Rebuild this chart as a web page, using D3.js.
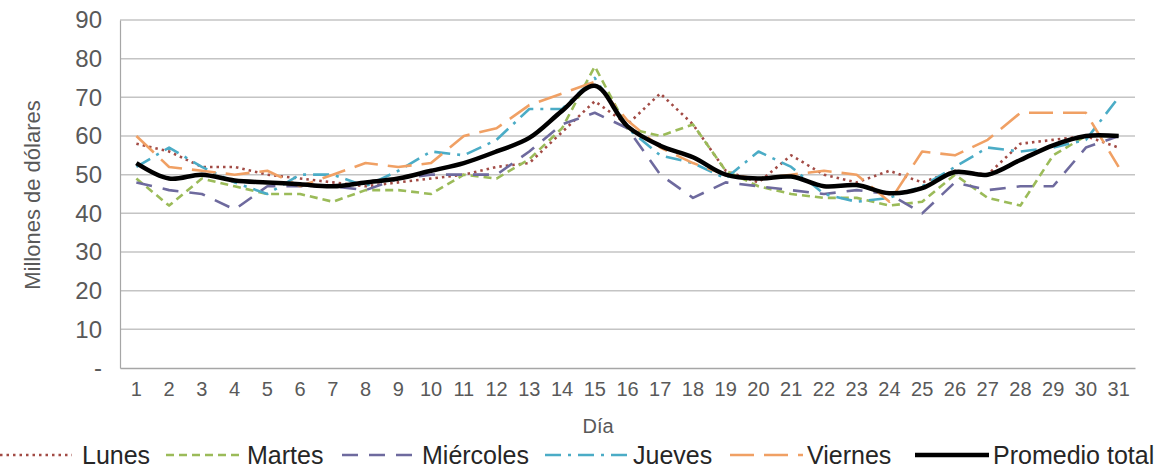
<!DOCTYPE html>
<html><head><meta charset="utf-8">
<script src="https://cdn.jsdelivr.net/npm/d3@7"></script>
<style>
html,body{margin:0;padding:0;background:#fff;}
svg{display:block;}
</style></head>
<body>
<svg id="chart" width="1164" height="472"></svg>
<script>
const days = d3.range(1, 32);
const yTicks = [0,10,20,30,40,50,60,70,80,90];
const yTickLabels = ["-","10","20","30","40","50","60","70","80","90"];
const lunes = [58,56,52,52,50,49,48,47,48,49,50,52,53,61,69,63,71,63,51,48,55,50,48,51,48,51,50,58,59,60,57];
const martes = [49,42,49,47,45,45,43,46,46,45,50,49,54,62,78,62,60,63,51,47,45,44,44,42,43,50,44,42,55,60,60];
const miercoles = [48,46,45,41,47,47,47,46,49,50,50,50,56,63,66,62,50,44,48,47,46,45,46,45,40,48,46,47,47,57,60];
const jueves = [52,57,52,48,45,50,50,47,51,56,55,59,67,67,75,62,55,53,49,56,52,45,43,44,47,52,57,56,57,59,70];
const viernes = [60,52,51,50,51,47,50,53,52,53,60,62,68,71,74,64,57,53,50,49,50,51,50,43,56,55,59,66,66,66,52];
const promedio = [53,49,50,48.5,48,47.5,47,48,49,51,53,56,59.5,66.5,73,62.5,57.5,54.5,50,49,49.5,47,47.3,45.2,46.5,50.7,50,53.8,57.6,60,60];
const seriesNames = ["Lunes","Martes","Miércoles","Jueves","Viernes","Promedio total"];
const seriesValues = [lunes, martes, miercoles, jueves, viernes, promedio];

const styles = [
  {color:"#A24B45", width:2.6, dash:"2.5 4", curve:d3.curveLinear},
  {color:"#9BBB59", width:2.6, dash:"8 5", curve:d3.curveLinear},
  {color:"#6E6A9E", width:2.6, dash:"16 11", curve:d3.curveLinear},
  {color:"#4BACC6", width:2.6, dash:"16 7 3 7", curve:d3.curveLinear},
  {color:"#F0A064", width:2.6, dash:"24 10", curve:d3.curveLinear},
  {color:"#000000", width:4.5, dash:null, curve:d3.curveCatmullRom}
];

const svg = d3.select("#chart");
const font = "'Liberation Sans',Arial,sans-serif";
const m = {left:120, right:1135, top:20, bottom:368};

const x = d3.scaleBand().domain(days).range([m.left, m.right]);
const y = d3.scaleLinear().domain([0,90]).range([m.bottom, m.top]);

// gridlines
svg.append("g").selectAll("line").data(yTicks.filter(d=>d>0)).join("line")
  .attr("x1", m.left).attr("x2", m.right)
  .attr("y1", d=>y(d)).attr("y2", d=>y(d))
  .attr("stroke", "#C4C4C4").attr("stroke-width", 1.5);

// y axis
const yAxis = d3.axisLeft(y).tickValues(yTicks).tickFormat((d,i)=>yTickLabels[i]).tickSize(0).tickPadding(18);
const gy = svg.append("g").attr("transform", `translate(${m.left},0)`).call(yAxis);
gy.select(".domain").attr("stroke", "#A6A6A6").attr("stroke-width", 1.2);
gy.selectAll("text").attr("font-family", font).attr("font-size", 24).attr("fill", "#595959");

// x axis
const xAxis = d3.axisBottom(x).tickSize(0).tickPadding(14);
const gx = svg.append("g").attr("transform", `translate(0,${m.bottom})`).call(xAxis);
gx.select(".domain").attr("stroke", "#A6A6A6").attr("stroke-width", 1.5);
gx.selectAll("text").attr("font-family", font).attr("font-size", 20).attr("fill", "#595959");

// axis titles
svg.append("text").attr("x", 598).attr("y", 433).attr("text-anchor","middle")
  .attr("font-family", font).attr("font-size", 20).attr("fill", "#595959").text("Día");
svg.append("text").attr("transform", "translate(40,195) rotate(-90)").attr("text-anchor","middle")
  .attr("font-family", font).attr("font-size", 22).attr("fill", "#595959").text("Millones de dólares");

// lines
seriesValues.forEach((vals, i) => {
  const st = styles[i];
  const line = d3.line().x((d,j)=>x(days[j]) + x.bandwidth()/2).y(d=>y(d)).curve(st.curve);
  svg.append("path").datum(vals)
    .attr("d", line).attr("fill","none")
    .attr("stroke", st.color).attr("stroke-width", st.width)
    .attr("stroke-dasharray", st.dash)
    .attr("stroke-linejoin","round");
});

// legend
const legendLineX = [0, 166, 342, 545, 730, 915];
const legendTextX = [82, 247, 422, 633, 807, 993];
const legY = 455;
const lg = svg.append("g");
seriesNames.forEach((name, i) => {
  const st = styles[i];
  lg.append("line").attr("x1", legendLineX[i]).attr("x2", legendTextX[i] - (i === 0 ? 10 : 4))
    .attr("y1", legY).attr("y2", legY)
    .attr("stroke", st.color).attr("stroke-width", st.width)
    .attr("stroke-dasharray", st.dash);
  lg.append("text").attr("x", legendTextX[i]).attr("y", legY + 9)
    .attr("font-family", font).attr("font-size", 25).attr("fill", "#262626").text(name);
});
</script>
</body></html>
